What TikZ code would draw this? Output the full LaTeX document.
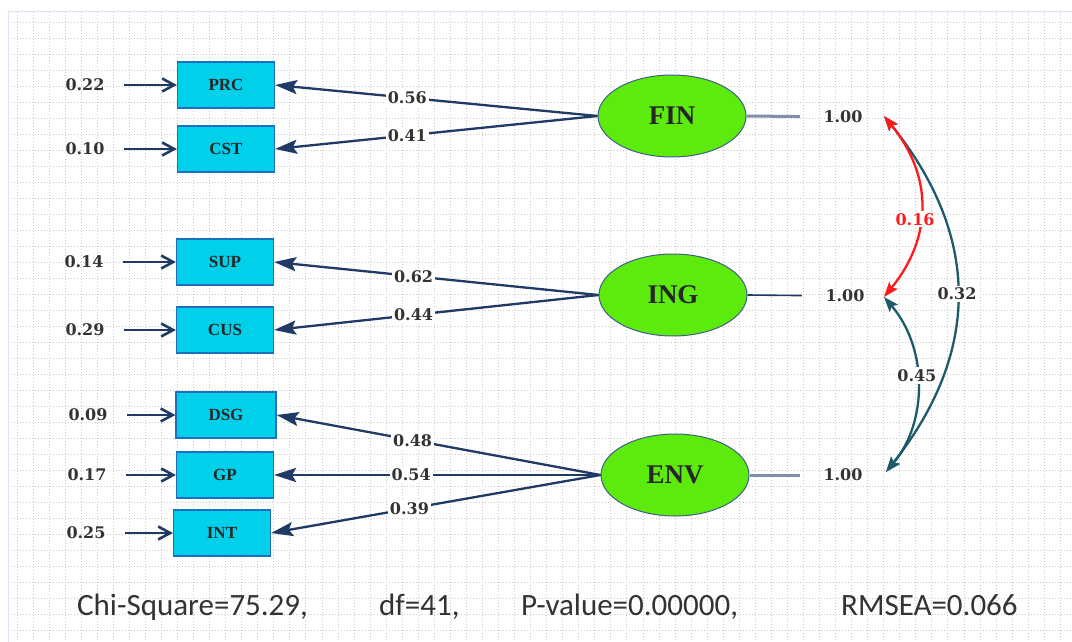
\documentclass[tikz,border=0pt]{standalone}
\usepackage{fontspec}
\setmainfont{Liberation Serif}
\newfontfamily\numfont{DejaVu Serif}
\newfontfamily\statfont{Carlito}
\usetikzlibrary{arrows.meta,shapes.geometric}
\definecolor{boxfill}{HTML}{00D0EA}
\definecolor{boxline}{HTML}{1F6FC0}
\definecolor{latfill}{HTML}{5CEB0C}
\definecolor{latline}{HTML}{3E5E8C}
\definecolor{navy}{HTML}{1F3A64}
\definecolor{tealc}{HTML}{1C5A6C}
\definecolor{grayblue}{HTML}{7F90AA}
\definecolor{numcol}{HTML}{333333}
\definecolor{gridcol}{HTML}{CACACA}
\definecolor{covred}{HTML}{FF1A1A}
\begin{document}
\begin{tikzpicture}[x=1pt,y=-1pt,
  obs/.style={draw=boxline, line width=1.2pt, fill=boxfill, minimum width=97pt, minimum height=46pt, inner sep=0pt, font=\fontsize{17}{17}\selectfont\bfseries, text=black!85},
  lat/.style={ellipse, draw=latline, line width=1pt, fill=latfill, minimum width=148pt, minimum height=82pt, inner sep=0pt, font=\fontsize{27}{27}\selectfont\bfseries, text=black!85},
  num/.style={font=\numfont\fontsize{16}{16}\selectfont\bfseries, text=numcol, inner sep=1.5pt},
  lbl/.style={num, fill=white, inner sep=2pt},
  load/.style={draw=navy, line width=2.3pt, -{Stealth[length=22pt,width=14pt,inset=4pt]}},
  err/.style={draw=navy, line width=2.6pt, shorten <=18pt, -{Straight Barb[length=12pt,width=13pt]}},
  varthick/.style={draw=grayblue, line width=3pt, shorten >=22pt},
  varthin/.style={draw=navy, line width=1.6pt, shorten >=22pt},
  covt/.style={draw=tealc, line width=2.3pt, {Stealth[length=15pt,width=11pt,inset=3pt]}-{Stealth[length=15pt,width=11pt,inset=3pt]}},
  covr/.style={draw=covred, line width=2.3pt, {Stealth[length=15pt,width=11pt,inset=3pt]}-{Stealth[length=15pt,width=11pt,inset=3pt]}},
  gridline/.style={draw=gridcol, line width=0.9pt, dash pattern=on 1pt off 2pt},
  stat/.style={font=\statfont\fontsize{31}{31}\selectfont, text=black!80, anchor=base west, inner sep=0pt}
]
\useasboundingbox (0,0) rectangle (1072,642);
\fill[white] (0,0) rectangle (1072,642);
% grid
\foreach \i in {0,...,65} \draw[gridline] ({17+16.05*\i},12) -- ({17+16.05*\i},642);
\foreach \j in {0,...,38} \draw[gridline] (8,{22+16.0*\j}) -- (1072,{22+16.0*\j});
\draw[blue!12, line width=1pt] (8,642) -- (8,12) -- (1072,12);

% observed variables
\node[obs] (prc) at (226,85) {PRC};
\node[obs] (cst) at (226,149) {CST};
\node[obs] (sup) at (225,262) {SUP};
\node[obs] (cus) at (225,330) {CUS};
\node[obs, minimum width=100pt] (dsg) at (226,415) {DSG};
\node[obs] (gp)  at (225,475) {GP};
\node[obs] (int) at (222,533) {INT};

% error terms
\node[num] (e1) at (85,85) {0.22};
\node[num] (e2) at (85,149) {0.10};
\node[num] (e3) at (84,262) {0.14};
\node[num] (e4) at (85,330) {0.29};
\node[num] (e5) at (88,415) {0.09};
\node[num] (e6) at (87,475) {0.17};
\node[num] (e7) at (86,533) {0.25};
\draw[err] (e1) -- (prc);
\draw[err] (e2) -- (cst);
\draw[err] (e3) -- (sup);
\draw[err] (e4) -- (cus);
\draw[err] (e5) -- (dsg);
\draw[err] (e6) -- (gp);
\draw[err] (e7) -- (int);

% latent variables
\node[lat] (fin) at (672,116) {FIN};
\node[lat] (ing) at (673,295) {ING};
\node[lat] (env) at (675,475) {ENV};

% loadings
\draw[load] (fin.west) -- node[lbl, pos=0.59] {0.56} (prc.east);
\draw[load] (fin.west) -- node[lbl, pos=0.59] {0.41} (cst.east);
\draw[load] (ing.west) -- node[lbl, pos=0.57] {0.62} (sup.east);
\draw[load] (ing.west) -- node[lbl, pos=0.57] {0.44} (cus.east);
\draw[load] (env.west) -- node[lbl, pos=0.58] {0.48} (dsg.east);
\draw[load] (env.west) -- node[lbl, pos=0.58] {0.54} (gp.east);
\draw[load] (env.west) -- node[lbl, pos=0.58] {0.39} (int.east);

% variances
\node[num] (v1) at (843,117) {1.00};
\node[num] (v2) at (845,296) {1.00};
\node[num] (v3) at (843,475) {1.00};
\draw[varthick] (fin.east) -- (v1);
\draw[varthin] (ing.east) -- (v2);
\draw[varthick] (env.east) -- (v3);

% covariances
\coordinate (c1) at (884,116);
\coordinate (c2) at (884,297);
\coordinate (c3) at (886,472);
\draw[covt] (c1) .. controls (981,236) and (981,352) .. node[lbl, pos=0.5] {0.32} (c3);
\draw[covt] (c2) .. controls (928,348) and (928,422) .. node[lbl, pos=0.45] {0.45} (c3);
\draw[covr] (c1) .. controls (933,176) and (933,237) .. node[lbl, pos=0.57, xshift=-5pt, text=covred] {0.16} (c2);

% fit statistics
\node[stat] (s1) at (77,615) {Chi-Square=75.29,};
\node[stat] (s2) at (379,615) {df=41,};
\node[stat] (s3) at (521,615) {P-value=0.00000,};
\node[stat] (s4) at (841,615) {RMSEA=0.066};
\end{tikzpicture}
\end{document}
